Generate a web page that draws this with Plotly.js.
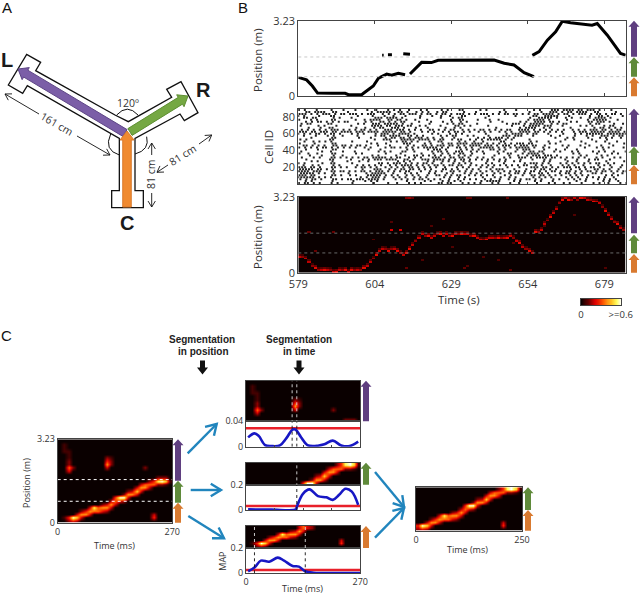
<!DOCTYPE html>
<html><head><meta charset="utf-8">
<script src="https://cdn.plot.ly/plotly-3.0.1.min.js"></script>
<style>html,body{margin:0;padding:0;background:#fff}#chart{width:640px;height:595px}</style>
</head><body><div id="chart"></div>
<script>
// ---------- DATA ----------
const trackA_t=[579,581.7,583.6,585.3,590,594.3,595.4,599.7,600.3,603.5,605.2,607.9,609.5,611.7,613.9];
const trackA_p=[0.81,0.70,0.44,0.14,0.13,0.13,0.07,0.07,0.13,0.44,0.77,0.95,0.90,0.98,0.92];
const trackB_t=[606.4,606.9],trackB2_t=[608.3,609.6],trackB3_t=[613.3,615.5];
const trackB_p=[1.75,1.75],trackB2_p=[1.78,1.78],trackB3_p=[1.82,1.80];
const trackC_t=[615.5,619.3,622.5,624.7,643,646.3,649.5,652.8,656];
const trackC_p=[0.95,1.45,1.44,1.54,1.55,1.41,1.34,1.01,0.84];
const trackD_t=[655.5,657.7,660.4,663.1,665.3,668,675,676.7,680,684.3,686];
const trackD_p=[1.75,1.91,2.40,2.76,3.21,3.14,3.04,3.11,2.61,1.83,1.76];
const spikeRows=[
"#.#...#....#...#...#...#..#...#.#.#..#...#.#....#.#...##.....#.#.....#...#.....#.#...###.####.##.###.#...#...",
"..##.####..##...#.......#.#####..##.#..#.#.#..#.##.....#...#.......#.#.......#...#..###.#.##.####..##.....#..",
"###.#.#.###.#.##.###.#.###..#.#.#.##.###.#.##.#.##.#.###.#.#.###.#.#.##.##.#.#.##.####.#.##.#.###.#.##.#.##.#",
"#.#....#...##.......#....#...#..#...#....#...#..#..#...##.......#........#.....##..#####...#......#..##.#....#.",
".##.##.....#.#...#.......###.####.#.....#......#...#.##.......#..............#..#####.#..#.#..#..#.####.#....",
"#...#.#....##......#..#.####..##.##.#..#...#.......#..##....#...#..#.........#.####.#.....#......#.#####...#..",
"..#.#.##.#.#.#.##.....#.#..##.#.#.##....#...#...#..#..#.#.......#...#.....#.#..####.##.#...#.#...##.###.#....",
".#.##.....##........#.#..###.#####.#..#.....#.....#.#.##....#.........#.###.#.#####..#.#.##.......#.##....#..#",
"#.....#.#...#....#......####.##.###.##..#.#....#....##.#.#.....#.......#...#.####.###...#.....#.#.#...#.##....",
"...#...#..##.......#..#..#.##..###.#...#...#.....#..#.#...........#.......#.####..#.#......#.......#.##.#.#.#.",
".#.#.#.#.#.###.#.#.#.##.#.#..###.###.#.#.#..##.#.#.##..#.#.#.##.#.#.#.##..####.#.#.#.#.#.#..#.#.#.###.##.#.##.",
"###.##.###.##.####.###.####.#####.##.#...#.#.#..#.#.##.#.#..#.#.#..#.#.#..####.##.#.#.#.#...#.###.#####.####.#",
"#.#.#.##.#.##.#...#.#.#...#.###.#.####.#.....#.#...#.#.#.......#......#.####.#.##...#....#...#.#.######.#######",
".#...#...#.#..#....#.....#.##.####..##.#.#.....#.#.##...#.#....#....###.###...#.....#..#....#...#.#..###.#.##.#",
"....#......##.......#...#....#.##.##.#.###.#.#..#...#.......#.#.#.###.#.#.............#...#.#....#...#.#.#..#.",
"#.#.......##.............#..###...#####.####.#.##..#.##..#.#.#.#####.#.#.....#...........#..#.....#....#......",
"..#..#.#.#.#......#....#.......#.#.##.#.#...#..##.....#.#..#..#.....##........#.#...#...#......#....#..#...#..",
"#....#.....##...........#.#..#.....###....#.#...#.##.####.####.#.#.#.#.#.###.##.....#.#.........#.......#....#.",
".##.#.#.#..##.##.#.##.#...#...#.....#.#..##.#.###.##.#.#.####.###.#.###.#.###.##..#.....#.#...#..#...#...#.....",
"#.#.#.#.##.#.#.#.#.#..#.#....#.##.#.#.#.#.#####.#.#..##.#.#..#####.#.#.#.#####.#..#.#.....#.....#...#.#.#....#.",
"..#...#....##..........#...#........#.#....#.###.#....#.#.#.#...##.#.#...#.###....#...#..#...#........#.......",
".#......#..#...#...#.......#.#.#...##..#.....#.##.#..###..#.#.#....#.#...#..#.##.##...#.#...#.#....#.#.#..#...#",
"#..#..#....##......#.#.......#....#......#...#..#.#.#.##..#...#....#..##...#.####.#.........#.#.....#....#.#..",
"...#...#...#..#.........#.#.....#..#..##.#.#.#.#..#..#.#.#.......#....#..#..#.###.###.#.......#.#....#.#......",
".#...#.#...##.#.#.#.#.##.#####.#.##..#.#.#...###.#.##.##.#..#.#..#...#.#..###.#.####.##.#.#.#.#.#...#.#...#.#.",
"..#.......##.....#...#.#.###.####..##.#..###.####.#.#.##.#.#.#.#.#.#.#....#...#...#.#....#...#...#.##...#.....#",
"....#.#....#....#...#..#.........#.#.#.....#.#..#.#.#..#.#.....#...#.#..#.#.......#.#.....#..#...#.....#.....#.",
"#.#.....#..##.....#........##.#.###.#.#.#.##.#..#...#.#.#.#....#.#...#......#.###.#.#...#.#.#.#.#.#.##..#.#...",
".#..#.#....#.#.....#.#.#.#.#..#.#.####.#.#.#.##.#.##.##..#.#.#.#.#.#.#.#.#.##..#.#..#...#.#.#..#....#.#.#...#",
"###.##.#...##.#.#..#.##.#.#..#.#.#.#.##.#.#.#.#..#...#.#.#...#.#.#....#...#...###.##.#.#.###.##.#.##.#...#..#..",
"#####.##.#.#.........#...###..#.#.##.##.#.#.#...##.#.#..#.#.#...#.###...#...#..#.##.#.#....#..#.#..##.#.#..#...",
"####.###...##.##.#.#.##.#.###.#.#.#.##...#..#.#.#..##.#.#.#..#.#.#.#.#.#.##.#.##.#.#.##.#.##.#.#.##.#.##.#.#.##",
"#####.#.#..#....#.....#.#####..#...#.#.#...#.#...#.#...#.#.#.#...#.#..#.##.#.#..##.#...#.##.#.#...##.#...#..#..",
"###.##.....##.#..#.#...#####.#.#.#..#.#.#..#..##.#.#.##..#.#.#.#.#...#.#...#..##.##.#.#.#..#.#.#.#.....#.#.#..#",
"######.#.#.#.........#.#.###.#..#.#.#..#.#.#.....#.#..#.#.....#...#.#..#.#.....#.#.#.#....#.#.#..#.#.#.#..#....",
"#.#.##.#...##.#.##.###.####.#...#.#.#.#.##.#.#.#..#..#.#.#.#..#.#..#..#.#.#.##.#.#...#.#..#.#.#.#...#.#.#.#....",
"..#.#......#......#...#.#.#.........#.....#.#...#.#.#.#......#.#####....#.#....#.#...#.......#..#.....#.#..#...",
"#.##.#.#...#.#....#......#....#..#...#.#.#.....##.##...#.#.#.#...#.#...#..#.....#...#.#..#.#...#...#.#..#...#.#"];
const rowShift=[0.2,0.7,0.4,0.0,0.9,0.3,0.6,0.1,0.8,0.5,0.2,0.6,0.0,0.9,0.4,0.7,0.1,0.5,0.8,0.3,0.6,0.0,0.4,0.9,0.2,0.7,0.5,0.1,0.8,0.3,0.6,0.2,0.9,0.4,0.0,0.7,0.5,0.2];
const posteriorRow=[8,8,7,5,3,2,1,1,1,1,1,0,0,1,1,1,0,1,1,1,1,2,3,5,7,9,11,12,12,11,12,12,11,10,9,10,12,14,16,18,20,19,19,18,19,20,20,19,20,19,19,20,20,20,20,20,19,19,18,17,17,17,18,18,18,18,18,18,18,19,18,16,15,13,12,11,10,21,21,22,25,27,29,31,33,36,38,39,38,38,39,38,39,39,38,38,37,37,36,34,32,30,28,26,25,23,22];
const posteriorLevel="43443534543454354534354435443534534554344354435443543544354435443534543454354534435443545343544354435443543";
const noiseCol=[30,33,35,36,37,55,56,68,3,11,30,47,5,35,54,55,69,100,24,50,60,70,80,65,90,40,43];
const noiseRow=[22,22,39,39,39,39,39,39,21,21,26,28,11,2,2,3,1,2,17,13,8,15,24,6,30,6,24];
const noiseVal=[0.2,0.2,0.12,0.14,0.1,0.1,0.1,0.1,0.1,0.1,0.08,0.08,0.1,0.1,0.1,0.08,0.1,0.08,0.08,0.08,0.08,0.08,0.08,0.08,0.08,0.08,0.08];
const barValues=[0,0.05,0.1,0.15,0.2,0.25,0.3,0.35,0.4,0.45,0.5,0.55,0.6];
// replay posterior: top row is highest position, digits are ninths of 0.6
const replayRows=[
"000000000000000000000000000",
"010000000000000000000000000",
"010000000000000000000000000",
"011000000000000000000000000",
"001000000000000000000000000",
"001000000002100000000000000",
"002000000004200000000000000",
"002000000006200000000000000",
"005200000003000000002000000",
"003000000000000000000000000",
"000000000000000000000000000",
"000000000000000000000002220",
"000000000000000000000248971",
"000000000000000000035552210",
"000000000000000000366300000",
"000000000000000023730000000",
"000000000000000266300000000",
"000000000000049930000000000",
"000000000000353200000000000",
"000000000023630000000000000",
"000000038566300000000000000",
"000002465532000000000000000",
"000036630000000000000030000",
"014973000000000000000040000",
"002320000000000000000000000"];
const mapTopT=[5,20,30,45,60,80,95,110,117,130,145,170,185,205,225,245,265];
const mapTopV=[0.0147,0.021,0.017,0.0026,0.001,0.002,0.013,0.027,0.027,0.015,0.0026,0.0016,0.0037,0.0095,0.002,0.001,0.008];
const mapMidT=[5,60,118,120,135,150,170,190,205,220,235,250,265];
const mapMidV=[0.005,0.003,0.005,0.026,0.13,0.163,0.11,0.1,0.08,0.12,0.168,0.145,0.04];
const mapLowT=[5,20,35,55,75,90,110,125,140,160,210,270];
const mapLowV=[0.016,0.045,0.1,0.092,0.124,0.1,0.058,0.053,0.016,0.005,0.002,0.002];
const thresholds=[0.029,0.032,0.026];

// ---------- HELPERS ----------
const W=640,H=595;
const FONT='"Open Sans", sans-serif', HEAD='"Liberation Sans", Arial, sans-serif';
const X=x=>x/W, Y=y=>1-y/H;
const hot=[[0,'#0a0000'],[0.15,'#5a0000'],[0.35,'#e00000'],[0.55,'#ff5a00'],[0.75,'#ffc020'],[0.9,'#ffff60'],[1,'#ffffff']];
const PUR='#5f3f80',GRN='#5f8a3a',ORG='#d97a30';
const layout={width:W,height:H,margin:{l:0,r:0,t:0,b:0},paper_bgcolor:'#fff',plot_bgcolor:'#fff',showlegend:false,
  font:{family:FONT,size:11,color:'#333'},shapes:[],annotations:[]};
function axes(n,x0,x1,y0,y1,xo,yo){
  const base={showgrid:false,zeroline:false,showline:true,mirror:true,linecolor:'#444',linewidth:1,ticks:'',showticklabels:false,fixedrange:true};
  layout['xaxis'+n]=Object.assign({},base,{domain:[X(x0),X(x1)],anchor:'y'+n},xo);
  layout['yaxis'+n]=Object.assign({},base,{domain:[Y(y1),Y(y0)],anchor:'x'+n},yo);
}
function txt(x,y,t,size,o){layout.annotations.push(Object.assign({xref:'paper',yref:'paper',x:X(x),y:Y(y),text:t,showarrow:false,
  font:{size:size,family:FONT,color:'#333'},xanchor:'center',yanchor:'middle',borderpad:0},o||{}));}
function path(d,line,fill){layout.shapes.push({type:'path',xref:'paper',yref:'paper',path:d,layer:'above',line:line,fillcolor:fill||'rgba(0,0,0,0)'});}
function poly(pts,close){return pts.map((p,i)=>(i?'L':'M')+X(p[0]).toFixed(5)+' '+Y(p[1]).toFixed(5)).join(' ')+(close?' Z':'');}
function block(x0,y0,x1,y1,bw,hw,hl,fill,edge){
  const L=Math.hypot(x1-x0,y1-y0),ux=(x1-x0)/L,uy=(y1-y0)/L,nx=-uy,ny=ux,bx=x1-ux*hl,by=y1-uy*hl;
  const P=[[x0+nx*bw/2,y0+ny*bw/2],[bx+nx*bw/2,by+ny*bw/2],[bx+nx*hw/2,by+ny*hw/2],[x1,y1],[bx-nx*hw/2,by-ny*hw/2],[bx-nx*bw/2,by-ny*bw/2],[x0-nx*bw/2,y0-ny*bw/2]];
  path(poly(P,true),{color:edge||fill,width:edge?1:0},fill);
}
function thin(x0,y0,x1,y1,color,w,hl){
  const a=Math.atan2(y0-y1,x0-x1),d=0.55;
  path(poly([[x0,y0],[x1,y1]]),{color:color,width:w});
  path(poly([[x1+hl*Math.cos(a+d),y1+hl*Math.sin(a+d)],[x1,y1],[x1+hl*Math.cos(a-d),y1+hl*Math.sin(a-d)]]),{color:color,width:w});
}
function side(x,y0,y1,c){block(x,y1,x,y0,6,11,6,c);}
function hline(n,y,x0,x1,color,dash,w){layout.shapes.push({type:'line',xref:'x'+n,yref:'y'+n,x0:x0,x1:x1,y0:y,y1:y,layer:'above',line:{color:color,width:w||1,dash:dash||'solid'}});}
function vline(n,x,y0,y1,color,dash,w){layout.shapes.push({type:'line',xref:'x'+n,yref:'y'+n,x0:x,x1:x,y0:y0,y1:y1,layer:'above',line:{color:color,width:w||1,dash:dash||'solid'}});}

// ---------- TRACES ----------
const traces=[];
const tickTimes=[579,604,629,654,679];
const inner=[604,629,654,679];
const lab={size:11,color:'#333'};
// B1 trajectory
axes(1,298.3,625.7,20.7,96.3,{range:[579,686],tickvals:inner,ticks:'inside',ticklen:3,tickcolor:'#444',mirror:'ticks'},
 {range:[0,3.23],tickvals:[0,3.23],ticktext:['0','3.23'],showticklabels:true,tickfont:lab});
[[trackA_t,trackA_p],[trackB_t,trackB_p],[trackB2_t,trackB2_p],[trackB3_t,trackB3_p],[trackC_t,trackC_p],[trackD_t,trackD_p]].forEach(s=>
 traces.push({type:'scatter',mode:'lines',x:s[0],y:s[1],xaxis:'x1',yaxis:'y1',line:{color:'#000',width:3}}));
hline(1,1.68,579,686,'#c8c8c8','dot');hline(1,0.84,579,686,'#c8c8c8','dot');
txt(258,60,'Position (m)',11.5,{textangle:-90});
// B2 raster
const sx=[],sy=[];
spikeRows.forEach((r,i)=>{for(let c=0;c<r.length;c++) if(r[c]==='#'){sx.push(579+(c+rowShift[i])*107/110);sy.push(88-i*2.34);}});
axes(2,298.3,625.7,108.7,184.3,{range:[579,686],tickvals:inner,ticks:'inside',ticklen:2,tickcolor:'#444',mirror:'ticks'},
 {range:[0,89.5],tickvals:[20,40,60,80],showticklabels:true,tickfont:lab});
traces.push({type:'scatter',mode:'markers',x:sx,y:sy,xaxis:'x2',yaxis:'y2',marker:{symbol:'square',size:2,color:'#222',line:{width:0}}});
txt(268,147,'Cell ID',11.5,{textangle:-90});
// B3 posterior
const nCols=107,nRows=40,pz=[];
for(let r=0;r<nRows;r++) pz.push(new Array(nCols).fill(0));
posteriorRow.forEach((r,k)=>{const v=(+posteriorLevel[k])*0.045;pz[r][k]=v;if(r+1<nRows)pz[r+1][k]=Math.max(pz[r+1][k],v*0.45);});
noiseCol.forEach((c,i)=>{pz[noiseRow[i]][c]=noiseVal[i];});
const pxs=[],pys=[];
for(let k=0;k<nCols;k++)pxs.push(579.5+k);
for(let r=0;r<nRows;r++)pys.push((r+0.5)*3.23/nRows);
axes(3,298.3,625.7,196.7,272.7,{range:[579,686],tickvals:tickTimes,showticklabels:true,tickfont:lab,ticklabelstandoff:1},
 {range:[0,3.23],tickvals:[0,3.23],ticktext:['0','3.23'],showticklabels:true,tickfont:lab});
traces.push({type:'heatmap',x:pxs,y:pys,z:pz,xaxis:'x3',yaxis:'y3',colorscale:hot,zmin:0,zmax:0.6,showscale:false});
hline(3,1.68,579,686,'#6a6a6a','dot');hline(3,0.84,579,686,'#6a6a6a','dot');
txt(258,237,'Position (m)',11.5,{textangle:-90});
txt(459,299,'Time (s)',11.5);
// colour key
axes(4,581,620.7,298.7,305.3,{range:[0,0.6],tickvals:[0,0.6],ticktext:['0','>=0.6'],showticklabels:true,tickfont:{size:9.5,color:'#333'}},{range:[0,1]});
traces.push({type:'heatmap',x:barValues,y:[0,1],z:[barValues,barValues],xaxis:'x4',yaxis:'y4',colorscale:hot,zmin:0,zmax:0.6,showscale:false,zsmooth:'best'});

// C replay matrix, bottom row first
const replay=replayRows.slice().reverse().map(s=>s.split('').map(d=>(+d)/9*0.6));
const T=[...Array(27).keys()].map(i=>i*10+5);
const P=replay.map((_,r)=>(r+0.5)*3.23/25);
const sliceRows=(a,b)=>replay.slice(a,b);
const heat=(n,x,y,z)=>traces.push({type:'heatmap',x:x,y:y,z:z,xaxis:'x'+n,yaxis:'y'+n,colorscale:hot,zmin:0,zmax:0.6,showscale:false,zsmooth:'best'});
const smallTick={size:9,color:'#333'};
// C main
axes(5,57.7,172.3,439.3,522.7,{range:[0,270],tickvals:[0,270],showticklabels:true,tickfont:smallTick},
 {range:[0,3.23],tickvals:[0,3.23],ticktext:['0','3.23'],showticklabels:true,tickfont:smallTick});
heat(5,T,P,replay);
hline(5,1.67,0,270,'#fff','dot');hline(5,0.83,0,270,'#fff','dot');
txt(26,483,'Position (m)',9,{textangle:-90});
txt(114.5,545,'Time (ms)',9);
// C segments: heat + MAP
function segment(nH,nL,y0,y1,y2,rowA,rowB,yMax,t,v,thr,xOpts){
  axes(nH,246,360.3,y0,y1,{range:[0,270]},{range:[P[rowA]-1.615/12.5*0.5,P[rowB-1]+1.615/12.5*0.5]});
  heat(nH,T,P.slice(rowA,rowB),sliceRows(rowA,rowB));
  axes(nL,246,360.3,y1,y2,Object.assign({range:[0,270],tickvals:[67.5,135,202.5],ticks:'inside',ticklen:2,tickcolor:'#444'},xOpts||{}),
    {range:[0,yMax],tickvals:[0,yMax],showticklabels:true,tickfont:smallTick});
  traces.push({type:'scatter',mode:'lines',x:[0,270],y:[thr,thr],xaxis:'x'+nL,yaxis:'y'+nL,line:{color:'#e8202a',width:2.6}});
  traces.push({type:'scatter',mode:'lines',x:t,y:v,xaxis:'x'+nL,yaxis:'y'+nL,line:{color:'#1717c4',width:2.6,shape:'spline'}});
}
segment(6,7,380.7,421.3,446.7,13,25,0.04,mapTopT,mapTopV,thresholds[0]);
segment(8,9,462.7,484.7,510,7,13,0.2,mapMidT,mapMidV,thresholds[1]);
segment(10,11,526,548,573.3,0,7,0.2,mapLowT,mapLowV,thresholds[2],
  {tickvals:[0,270],ticks:'',showticklabels:true,tickfont:smallTick});
txt(223,561.7,'MAP',9,{textangle:-90});
txt(302,588.5,'Time (ms)',9);
[[6,109],[6,120]].forEach(v=>vline(v[0],v[1],0,3.23,'#ddd','dot',0.9));
[[7,109],[7,120]].forEach(v=>vline(v[0],v[1],0,0.04,'#111','dot',0.9));
vline(8,120,0,3.23,'#ddd','dot',0.9);vline(9,120,0,0.2,'#111','dot',0.9);
[20,140].forEach(t=>{vline(10,t,0,3.23,'#ddd','dot',0.9);vline(11,t,0,0.2,'#111','dot',0.9);});
// C final
axes(12,416,522,487.3,530.7,{range:[0,250],tickvals:[0,250],showticklabels:true,tickfont:smallTick},
 {range:[0,13*3.23/25]});
heat(12,[...Array(25).keys()].map(i=>i*10+5),P.slice(0,13),sliceRows(0,13).map(r=>r.slice(2)));
txt(467.7,549,'Time (ms)',9);

// ---------- ANNOTATION / SCHEMATIC ----------
txt(7,8,'A',15,{font:{size:15,family:HEAD,color:'#111'}});
txt(243,8,'B',15,{font:{size:15,family:HEAD,color:'#111'}});
txt(6,335,'C',15,{font:{size:15,family:HEAD,color:'#111'}});
const big={font:{size:20,family:HEAD,color:'#1a1a1a'}};
txt(7,60,'<b>L</b>',20,big);txt(203,90,'<b>R</b>',20,big);txt(127,223,'<b>C</b>',20,big);
const Z=(x,y)=>[x/3,y/3];
const outline=[[345,345],[107,212],[122,187],[80,163],[25,255],[68,280],[82,257],[358,415],[358,572],[335,572],[335,623],[430,623],[430,572],[405,572],[405,415],[540,342],[553,362],[594,338],[543,245],[500,268],[515,292],[385,365]].map(p=>Z(p[0],p[1]));
path(poly(outline,true),{color:'#111',width:1.3});
const q=(a,b,c)=>'M'+X(a[0]/3)+' '+Y(a[1]/3)+' Q'+X(b[0]/3)+' '+Y(b[1]/3)+' '+X(c[0]/3)+' '+Y(c[1]/3);
path(q([350,345],[382,310],[414,345]),{color:'#111',width:1});
path(q([332,402],[310,450],[358,465]),{color:'#111',width:1});
path(q([440,410],[450,450],[405,462]),{color:'#111',width:1});
block(125,133,18,69,8,14,9,'#7b5ea7','#5d4585');
block(130,132,188,96,8,14,9,'#75a843','#5f8f34');
block(127,207,127,131,8.5,14,9,'#f08a30','#d9782a');
thin(39,114,5,94,'#111',0.9,7);
thin(77,136,110,155,'#111',0.9,7);
thin(151.7,155,151.7,143,'#111',0.9,7);
thin(151.7,193,151.7,207,'#111',0.9,7);
thin(168,165,157,172.3,'#111',0.9,7);
thin(199,144,211.7,135,'#111',0.9,7);
txt(57,124,'161 cm',10.5,{textangle:30});
txt(128,103,'120º',10.5);
txt(151,174,'81 cm',10.5,{textangle:-90});
txt(182.7,155,'81 cm',10.5,{textangle:-32});
// side arrows
side(634,20.7,56.7,PUR);side(634,57.3,76.7,GRN);side(634,77.3,96.3,ORG);
side(634,108.7,146.7,PUR);side(634,146.7,165,GRN);side(634,165,184.3,ORG);
side(634,196.7,233.3,PUR);side(634,234.7,253.3,GRN);side(634,254,272.7,ORG);
side(178,439.3,480.7,PUR);side(178,480.7,502.7,GRN);side(178,502.7,522.7,ORG);
side(366,380.7,421.3,PUR);side(366,462.7,484.7,GRN);side(366,526,548,ORG);
side(528,487.3,510,GRN);side(528,510,530.7,ORG);
// black segmentation markers
const seg={font:{size:10,family:HEAD,color:'#222'}};
txt(202,339,'<b>Segmentation</b>',10,seg);txt(203,351,'<b>in position</b>',10,seg);
txt(299,339,'<b>Segmentation</b>',10,seg);txt(299,351,'<b>in time</b>',10,seg);
block(202.5,360.5,202.5,374.5,5,11,7,'#111');block(299,360.5,299,374.5,5,11,7,'#111');
// blue flow arrows
[[187.7,453.3,216.7,424],[190.7,490,221,490],[188.3,516,224,538.3],[375,472,404,507],[375,537.7,404,508]].forEach(a=>thin(a[0],a[1],a[2],a[3],'#2185bd',2.4,12));

Plotly.newPlot('chart',traces,layout,{staticPlot:true,displayModeBar:false});
</script></body></html>
